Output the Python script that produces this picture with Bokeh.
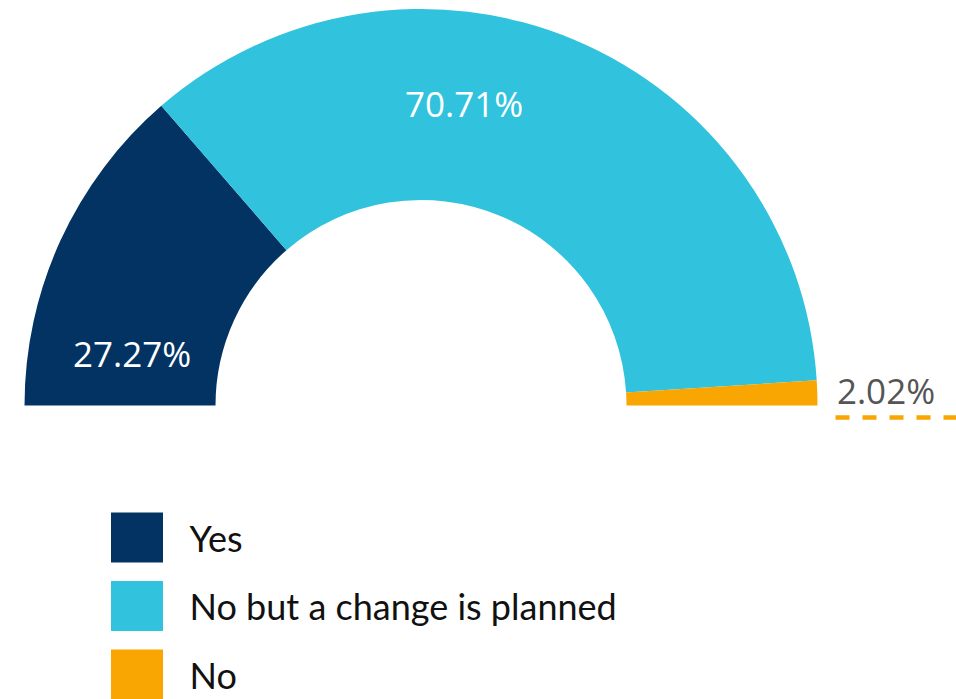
import numpy as np
from bokeh.plotting import figure
from bokeh.models import Range1d, ColumnDataSource
from bokeh.core.properties import value
from bokeh.embed import file_html
from bokeh.resources import INLINE

# ---- data ----
categories = ["Yes", "No but a change is planned", "No"]
shares = [27.27, 70.71, 2.02]
labels = ["27.27%", "70.71%", "2.02%"]
colors = ["#033363", "#31C2DD", "#F9A602"]

W, H = 956, 699
p = figure(width=W, height=H, output_backend="svg", toolbar_location=None,
           x_range=Range1d(0, W), y_range=Range1d(0, H), min_border=0)
p.axis.visible = False
p.grid.visible = False
p.outline_line_color = None
p.background_fill_color = "white"
p.border_fill_color = "white"

# layout (pixel-based geometry)
cx, cy = 420.5, H - 405
r_out, r_in = 396.5, 205.5

frac = np.array(shares) / np.sum(shares)
cum = np.concatenate([[0.0], np.cumsum(frac)])
# slices run clockwise from the left (pi) to the right (0)
end_ang = np.pi - cum[:-1] * np.pi
start_ang = np.pi - cum[1:] * np.pi

src = ColumnDataSource(dict(start=start_ang, end=end_ang, color=colors,
                            cat=categories))
p.annular_wedge(x=cx, y=cy, inner_radius=r_in, outer_radius=r_out,
                start_angle="start", end_angle="end", color="color",
                line_color=None, source=src)

# percentage labels (offsets from centre)
lab_dx = [-289, 43, 465]
lab_dy = [52, 302, 15]
lab_col = ["white", "white", "#555555"]
p.text(x=[cx + d for d in lab_dx], y=[cy + d for d in lab_dy], text=labels,
       text_color=lab_col, text_align="center", text_baseline="middle",
       text_font=value("Open Sans"), text_font_size="35px")

# leader line for small slice
p.segment(x0=[835], y0=[H - 417], x1=[956], y1=[H - 417],
          line_color=colors[2], line_width=4.5, line_dash="14 13")

# legend
leg_y = [H - 537 - 68.5 * i for i in range(len(categories))]
p.rect(x=[136.5] * 3, y=leg_y, width=52, height=50, color=colors,
       line_color=None)
p.text(x=[189] * 3, y=leg_y, text=categories, text_color="#111111",
       text_align="left", text_baseline="middle",
       text_font=value("Lato"), text_font_size="36px")

open("out.html", "w").write(file_html(p, INLINE))
